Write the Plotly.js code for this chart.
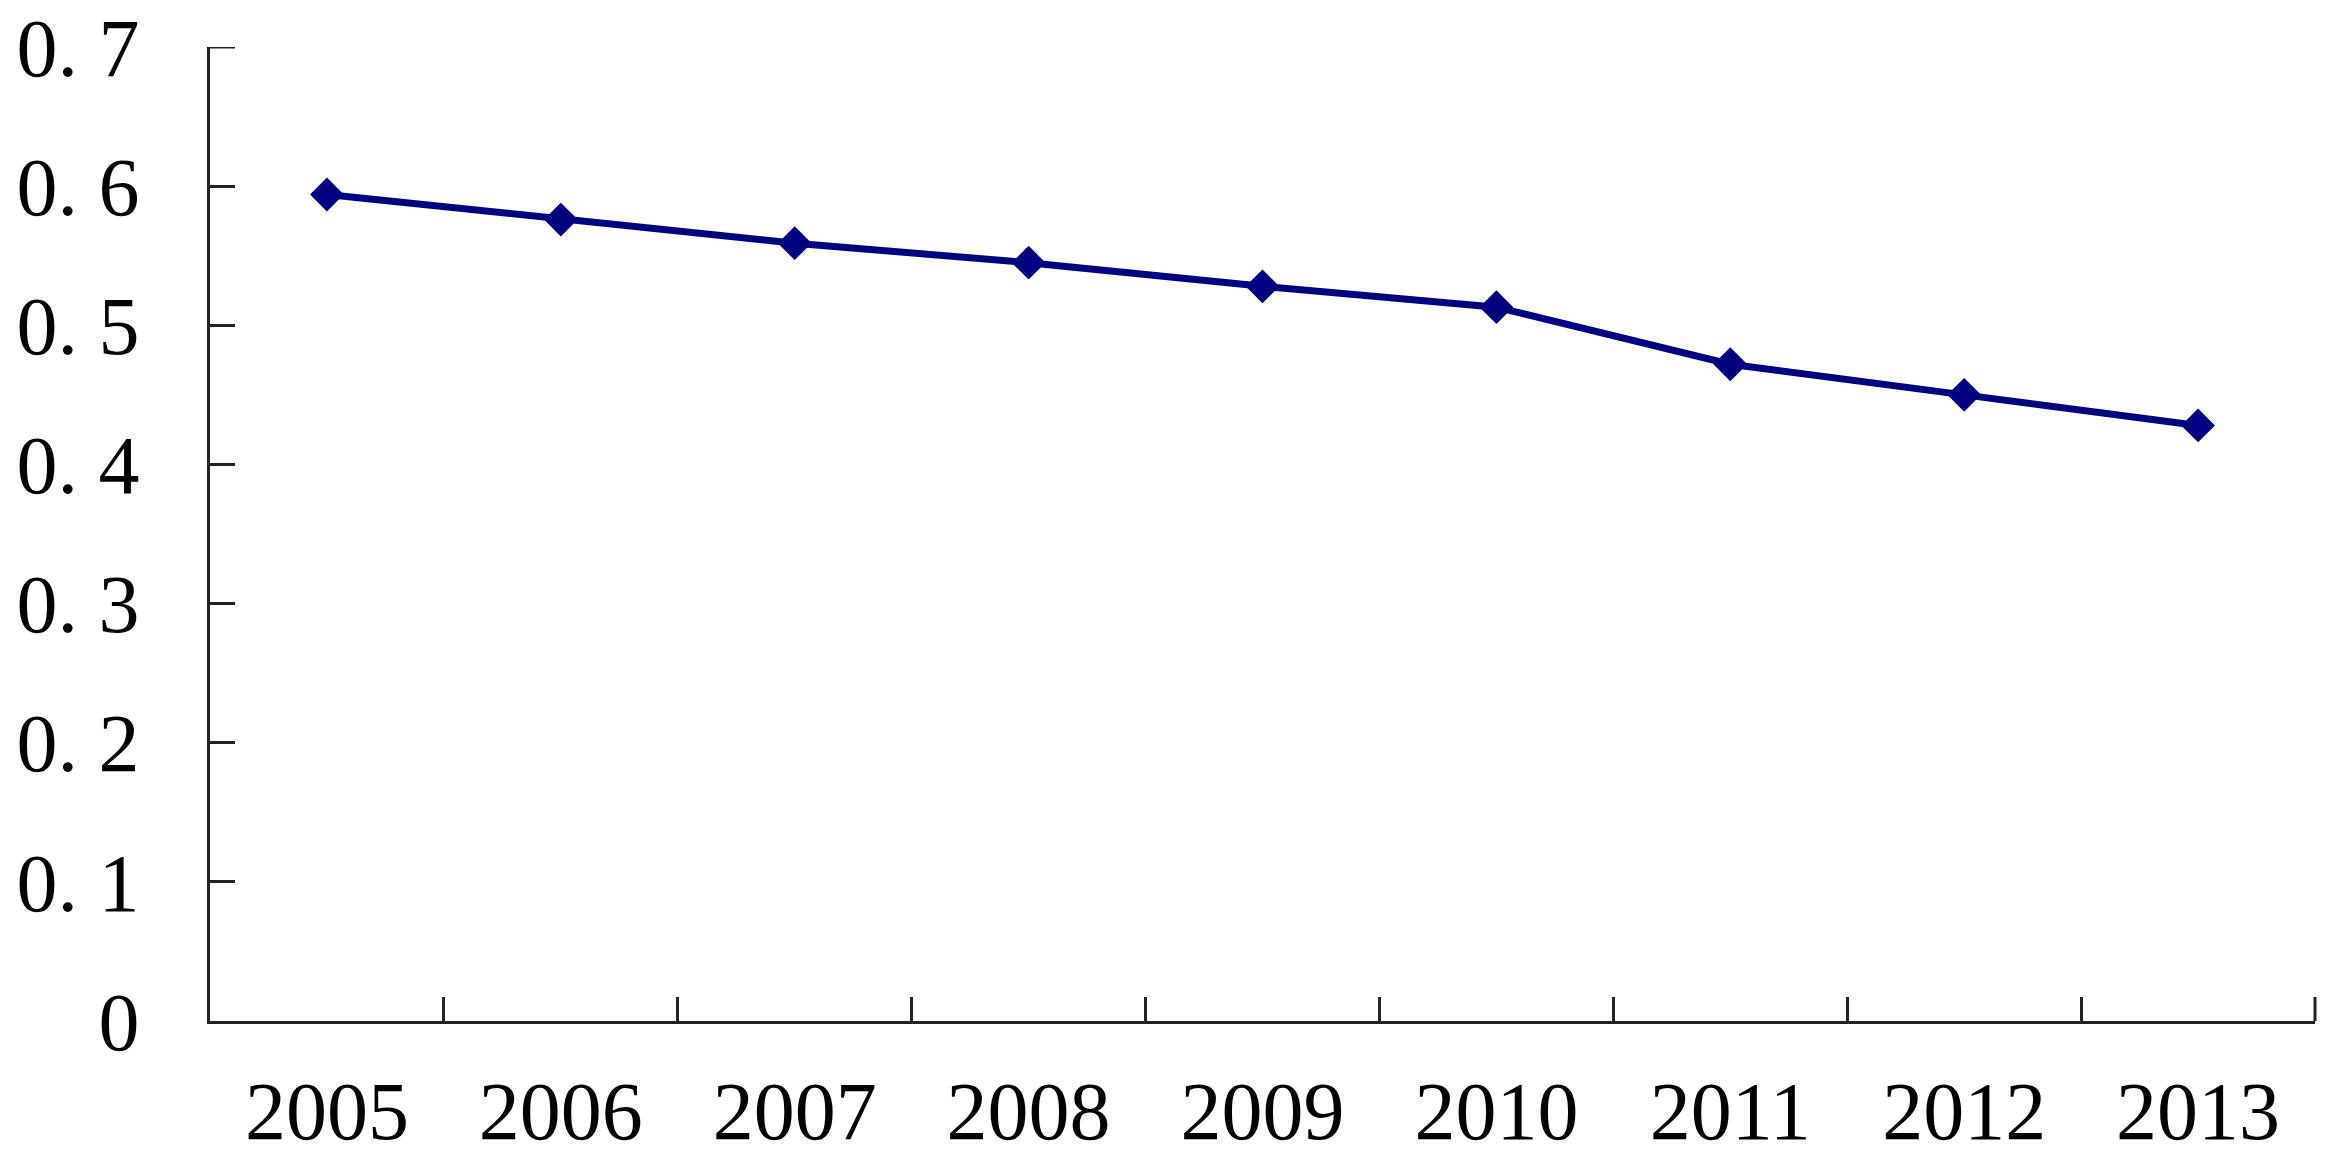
<!DOCTYPE html>
<html>
<head>
<meta charset="utf-8">
<script src="https://cdn.plot.ly/plotly-3.0.1.min.js"></script>
<style>html,body{margin:0;padding:0;background:#fff;}#chart{width:2328px;height:1161px;}</style>
</head>
<body>
<div id="chart"></div>
<script>
const years = ["2005","2006","2007","2008","2009","2010","2011","2012","2013"];
const values = [0.594, 0.576, 0.559, 0.545, 0.528, 0.513, 0.472, 0.450, 0.428];
const yTickVals = [0, 0.1, 0.2, 0.3, 0.4, 0.5, 0.6, 0.7];
const yTickText = ["0", "0. 1", "0. 2", "0. 3", "0. 4", "0. 5", "0. 6", "0. 7"];

const font = {family: "Liberation Serif, Times New Roman, serif", size: 82, color: "#000"};
const axisLine = {color: "#222", width: 3};

Plotly.newPlot("chart", [{
  type: "scatter",
  mode: "lines+markers",
  x: years,
  y: values,
  line: {color: "#000080", width: 7},
  marker: {symbol: "diamond", size: 26, color: "#000080"},
  showlegend: false,
  cliponaxis: false
}], {
  width: 2328, height: 1161,
  margin: {l: 210, r: 13, t: 47, b: 140},
  paper_bgcolor: "#fff", plot_bgcolor: "#fff",
  font: font,
  xaxis: {
    type: "category",
    range: [-0.5, 8.5],
    tickson: "boundaries",
    ticks: "inside", ticklen: 24, tickwidth: 3, tickcolor: "#222",
    showline: true, linecolor: "#222", linewidth: 3,
    showgrid: false, zeroline: false,
    tickfont: font,
    ticklabelstandoff: 17
  },
  yaxis: {
    range: [0, yTickVals[yTickVals.length - 1]],
    tickvals: yTickVals, ticktext: yTickText,
    ticks: "inside", ticklen: 25, tickwidth: 3, tickcolor: "#222",
    showline: true, linecolor: "#222", linewidth: 3,
    showgrid: false, zeroline: false,
    tickfont: font,
    ticklabelstandoff: 51
  },
  shapes: [
    // end ticks that Plotly clips at the axis ends (top of y axis, right end of x axis)
    {type: "line", xref: "paper", xsizemode: "pixel", xanchor: 0, x0: 0, x1: 25,
     yref: "y", y0: yTickVals[yTickVals.length - 1], y1: yTickVals[yTickVals.length - 1], line: axisLine, layer: "above"},
    {type: "line", xref: "paper", x0: 1, x1: 1,
     yref: "paper", ysizemode: "pixel", yanchor: 0, y0: 0, y1: 24, line: axisLine, layer: "above"}
  ]
}, {displayModeBar: false, staticPlot: true});
</script>
</body>
</html>
